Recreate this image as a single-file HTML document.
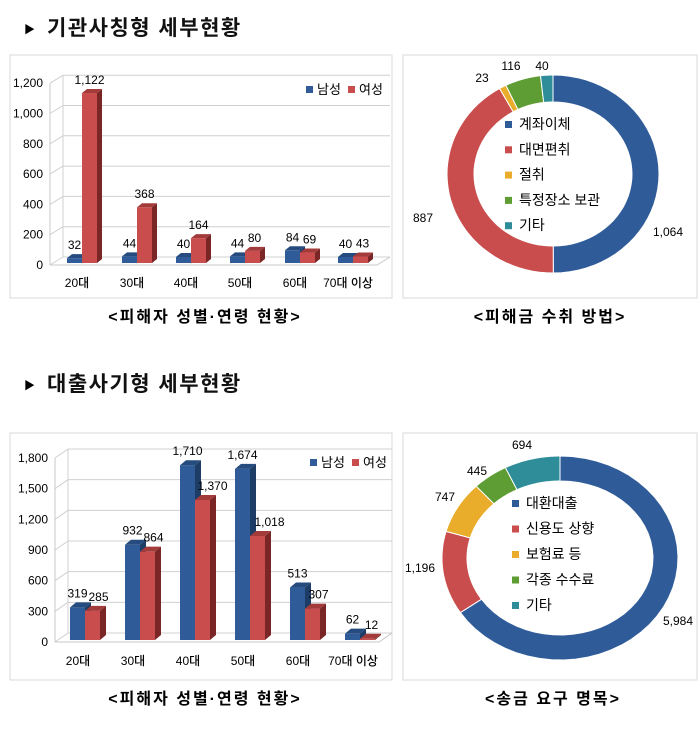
<!DOCTYPE html>
<html><head><meta charset="utf-8">
<style>
html,body{margin:0;padding:0;background:#fff;}
body{width:700px;height:729px;overflow:hidden;}
svg text{font-family:"Liberation Sans","Noto Sans CJK KR",sans-serif;}
</style></head>
<body>
<svg id="s" width="700" height="729" xmlns="http://www.w3.org/2000/svg">
<rect x="10" y="55" width="382" height="243" fill="#fff" stroke="#d9d9d9"/>
<rect x="403" y="55" width="294" height="243" fill="#fff" stroke="#d9d9d9"/>
<rect x="10" y="433" width="382" height="247" fill="#fff" stroke="#d9d9d9"/>
<rect x="403" y="433" width="294" height="247" fill="#fff" stroke="#d9d9d9"/>
<text x="24" y="33" font-size="11" fill="#000">▶</text>
<text x="47" y="35" font-size="21" font-weight="bold" fill="#111" letter-spacing="1.5">기관사칭형  세부현황</text>
<text x="24" y="389" font-size="11" fill="#000">▶</text>
<text x="47" y="391" font-size="21" font-weight="bold" fill="#111" letter-spacing="1.5">대출사기형  세부현황</text>
<text x="205" y="322" font-size="16" font-weight="bold" text-anchor="middle" letter-spacing="2">&lt;피해자 성별·연령 현황&gt;</text>
<text x="550" y="322" font-size="16" font-weight="bold" text-anchor="middle" letter-spacing="2">&lt;피해금 수취 방법&gt;</text>
<text x="205" y="704" font-size="16" font-weight="bold" text-anchor="middle" letter-spacing="2">&lt;피해자 성별·연령 현황&gt;</text>
<text x="553" y="704" font-size="16" font-weight="bold" text-anchor="middle" letter-spacing="2">&lt;송금 요구 명목&gt;</text>
<g id="g"></g>
</svg>
<script>
var g=document.getElementById('g'),h='';
function bar(cfg){
 var y0=cfg.y0,sc=cfg.sc,ox=cfg.ox,oy=cfg.oy,L=cfg.left,R=cfg.right;
 cfg.ticks.forEach(function(t){var y=y0-t*sc;
  h+='<line x1="'+(L+ox)+'" y1="'+(y+oy)+'" x2="'+R+'" y2="'+(y+oy)+'" stroke="#d0d0d0"/>';
  h+='<line x1="'+L+'" y1="'+y+'" x2="'+(L+ox)+'" y2="'+(y+oy)+'" stroke="#d0d0d0"/>';
  h+='<text x="'+(L-7)+'" y="'+(y+4)+'" font-size="12" font-weight="500" text-anchor="end">'+t.toLocaleString('en-US')+'</text>';});
 h+='<line x1="'+(L+ox)+'" y1="'+(y0+oy)+'" x2="'+(L+ox)+'" y2="'+(y0-cfg.ticks[cfg.ticks.length-1]*sc+oy)+'" stroke="#d0d0d0"/>';
 h+='<polyline points="'+L+','+y0+' '+(R-ox)+','+y0+' '+R+','+(y0+oy)+'" fill="none" stroke="#c8c8c8"/>';
 h+='<line x1="'+L+'" y1="'+y0+'" x2="'+L+'" y2="'+(y0-cfg.ticks[cfg.ticks.length-1]*sc)+'" stroke="#c8c8c8"/>';
 var cols=[['#2f5c99','#1d3c66','#264b7e'],['#c94d4d','#7a2626','#a33b3b']];
 cfg.data.forEach(function(d,i){var c=cfg.cx[i];
  [0,1].forEach(function(k){var v=d[k],x=c+cfg.bo[k],w=cfg.bw,dx=cfg.dx,dy=cfg.dy;
   var yb=y0-2,yt=yb-v*sc;var col=cols[k];
   h+='<rect x="'+x+'" y="'+yt+'" width="'+w+'" height="'+(yb-yt)+'" fill="'+col[0]+'"/>';
   h+='<polygon points="'+(x+w)+','+yt+' '+(x+w+dx)+','+(yt-dy)+' '+(x+w+dx)+','+(yb-dy)+' '+(x+w)+','+yb+'" fill="'+col[1]+'"/>';
   h+='<polygon points="'+x+','+yt+' '+(x+dx)+','+(yt-dy)+' '+(x+w+dx)+','+(yt-dy)+' '+(x+w)+','+yt+'" fill="'+col[2]+'"/>';
   h+='<text x="'+(x+w/2+(cfg.lo?cfg.lo[i][k]:0))+'" y="'+(yt-dy-5)+'" font-size="12" font-weight="500" text-anchor="middle">'+v.toLocaleString('en-US')+'</text>';
  });
  h+='<text x="'+c+'" y="'+cfg.cy+'" font-size="12" font-weight="500" text-anchor="middle">'+cfg.cats[i]+'</text>';
 });
 h+='<rect x="'+cfg.lx+'" y="'+(cfg.lyy-8)+'" width="7" height="7" fill="#2f5c99"/><text x="'+(cfg.lx+11)+'" y="'+cfg.lyy+'" font-size="13">남성</text>';
 h+='<rect x="'+(cfg.lx+42)+'" y="'+(cfg.lyy-8)+'" width="7" height="7" fill="#c94d4d"/><text x="'+(cfg.lx+53)+'" y="'+cfg.lyy+'" font-size="13">여성</text>';
}
var cats=['20대','30대','40대','50대','60대','70대 이상'];
bar({y0:265,sc:30.3/200,ox:13,oy:-8,left:50,right:390,ticks:[0,200,400,600,800,1000,1200],
 data:[[32,1122],[44,368],[40,164],[44,80],[84,69],[40,43]],cx:[77,132,186,240,295,348],bo:[-10,5],bw:15,dx:5,dy:4,cy:287,cats:cats,lx:306,lyy:94,
 lo:[[0,0],[0,0],[0,0],[0,2],[0,2],[0,2]]});
bar({y0:642,sc:184/1800,ox:13,oy:-9,left:55,right:392,ticks:[0,300,600,900,1200,1500,1800],
 data:[[319,285],[932,864],[1710,1370],[1674,1018],[513,307],[62,12]],cx:[78,133,188,243,298,353],bo:[-8,7],bw:15,dx:6,dy:5,cy:665,cats:cats,lx:310,lyy:467,
 lo:[[0,6],[0,6],[0,10],[0,12],[0,6],[0,4]]});
function donut(cx,cy,rx,ry,t,vals,cols){
 var tot=vals.reduce(function(a,b){return a+b},0),a=0;
 var rx2=rx-t,ry2=ry-t;
 vals.forEach(function(v,i){var a1=a+v/tot*2*Math.PI;var n=40,p=[];
  for(var j=0;j<=n;j++){var q=a+(a1-a)*j/n;p.push((cx+rx*Math.sin(q)).toFixed(1)+','+(cy-ry*Math.cos(q)).toFixed(1));}
  for(var j=n;j>=0;j--){var q=a+(a1-a)*j/n;p.push((cx+rx2*Math.sin(q)).toFixed(1)+','+(cy-ry2*Math.cos(q)).toFixed(1));}
  h+='<polygon points="'+p.join(' ')+'" fill="'+cols[i]+'" stroke="#fff" stroke-width="1"/>';a=a1;});
}
var C=['#2f5c99','#c94d4d','#e9ad2b','#5e9c34','#2f8c99'];
donut(553,174,106,99,27,[1064,887,23,116,40],C);
donut(560,558,118,102,25,[5984,1196,747,445,694],C);
function leg(x,y,items,gap){items.forEach(function(s,i){
 h+='<rect x="'+x+'" y="'+(y+i*gap-8)+'" width="7" height="7" fill="'+C[i]+'"/><text x="'+(x+14)+'" y="'+(y+i*gap)+'" font-size="14">'+s+'</text>';});}
leg(505,129,['계좌이체','대면편취','절취','특정장소 보관','기타'],25.3);
leg(512,508,['대환대출','신용도 상향','보험료 등','각종 수수료','기타'],25.5);
function lab(x,y,s){h+='<text x="'+x+'" y="'+y+'" font-size="12" font-weight="500" text-anchor="middle">'+s+'</text>';}
lab(482,82,'23');lab(511,70,'116');lab(542,70,'40');lab(423,222,'887');lab(668,236,'1,064');
lab(522,449,'694');lab(477,475,'445');lab(445,501,'747');lab(420,572,'1,196');lab(678,625,'5,984');
g.innerHTML=h;
</script>
</body></html>
